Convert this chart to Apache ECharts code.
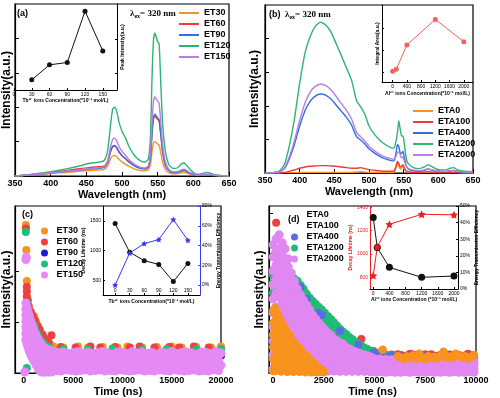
<!DOCTYPE html>
<html>
<head>
<meta charset="utf-8">
<script src="https://cdn.jsdelivr.net/npm/echarts@6/dist/echarts.min.js"></script>
<style>
  html, body { margin: 0; padding: 0; background: #fff; }
  #chart { width: 500px; height: 398px; }
</style>
</head>
<body>
<div id="chart"></div>
<script>
// ---------- (a) Tb3+ series, emission spectra ----------
const wlA = [350,365,380,395,410,425,440,455,467,475,480,484,487,490,493,496,500,505,510,518,526,532,537,540,542,544,546,548,550,552,554,557,561,566,572,578,583,587,591,596,602,608,614,619,624,630,640,650];
const et30 = [0,0.02,0.04,0.06,0.09,0.11,0.14,0.16,0.17,0.19,0.3,0.5,0.58,0.6,0.55,0.48,0.41,0.34,0.28,0.2,0.16,0.15,0.18,0.35,0.7,0.95,1.0,0.97,0.93,0.9,0.72,0.4,0.18,0.09,0.06,0.07,0.09,0.1,0.08,0.05,0.03,0.02,0.02,0.03,0.02,0.01,0,0];
const et60 = [0,0.02,0.05,0.09,0.13,0.17,0.21,0.25,0.27,0.29,0.43,0.72,0.85,0.87,0.8,0.69,0.59,0.5,0.41,0.3,0.24,0.22,0.27,0.57,1.2,1.65,1.74,1.7,1.64,1.6,1.27,0.7,0.31,0.15,0.1,0.11,0.14,0.16,0.13,0.08,0.04,0.03,0.04,0.04,0.03,0.02,0.01,0];
const et90 = [0,0.02,0.05,0.08,0.11,0.14,0.17,0.2,0.22,0.25,0.4,0.72,0.87,0.89,0.82,0.7,0.6,0.5,0.4,0.29,0.22,0.2,0.26,0.58,1.25,1.7,1.8,1.75,1.68,1.64,1.3,0.72,0.32,0.15,0.1,0.11,0.15,0.17,0.13,0.08,0.04,0.03,0.04,0.04,0.03,0.02,0.01,0];
const et120 = [0,0.03,0.07,0.11,0.16,0.22,0.29,0.37,0.4,0.45,0.75,1.5,1.95,2.0,1.85,1.55,1.3,1.1,0.85,0.58,0.44,0.4,0.5,1.2,2.8,3.9,4.15,4.05,3.9,3.85,2.9,1.5,0.7,0.32,0.22,0.24,0.35,0.38,0.3,0.18,0.07,0.05,0.08,0.1,0.08,0.03,0.01,0];
const et150 = [0,0.02,0.05,0.08,0.11,0.14,0.18,0.22,0.24,0.27,0.45,0.85,1.07,1.1,1.0,0.85,0.72,0.6,0.47,0.33,0.25,0.23,0.3,0.7,1.55,2.15,2.3,2.25,2.18,2.12,1.65,0.9,0.4,0.18,0.12,0.13,0.18,0.2,0.16,0.09,0.04,0.03,0.04,0.05,0.04,0.02,0.01,0];
const tbConcA = [30, 60, 90, 120, 150];
const peakIntA = [0.80, 1.24, 1.31, 2.82, 1.65];

// ---------- (b) Al3+ series, emission spectra ----------
const wlB = [350,360,370,378,385,392,400,408,415,422,430,438,445,452,460,468,475,482,488,494,500,508,516,524,532,536,539,541,543,545,547,549,551,554,558,565,572,580,585,590,597,605,612,617,622,628,638,650];
const eta0 = [0,0,0,0.01,0.01,0.01,0.01,0.02,0.02,0.02,0.02,0.02,0.02,0.02,0.02,0.02,0.02,0.03,0.04,0.03,0.02,0.02,0.01,0.01,0.01,0.02,0.15,0.3,0.22,0.12,0.15,0.2,0.12,0.04,0.02,0.01,0.01,0.02,0.03,0.02,0.01,0.01,0.01,0.01,0.01,0.01,0,0];
const eta100 = [0,0,0.01,0.02,0.05,0.09,0.14,0.18,0.2,0.21,0.22,0.22,0.21,0.2,0.18,0.16,0.14,0.14,0.16,0.13,0.1,0.08,0.06,0.05,0.05,0.06,0.2,0.35,0.28,0.18,0.2,0.25,0.15,0.06,0.03,0.02,0.02,0.03,0.04,0.03,0.02,0.01,0.01,0.02,0.02,0.01,0.01,0];
const eta400 = [0,0.01,0.03,0.13,0.42,0.82,1.4,1.87,2.13,2.28,2.35,2.31,2.2,2.04,1.84,1.64,1.42,1.08,0.98,0.86,0.72,0.59,0.49,0.42,0.37,0.36,0.6,0.84,0.78,0.6,0.58,0.64,0.45,0.2,0.1,0.06,0.05,0.08,0.12,0.09,0.05,0.04,0.04,0.06,0.07,0.04,0.02,0.01];
const eta1200 = [0,0.01,0.05,0.25,0.8,1.55,2.67,3.6,4.05,4.35,4.49,4.4,4.2,3.88,3.5,3.1,2.75,2.15,1.97,1.75,1.4,1.15,0.97,0.84,0.75,0.74,0.95,1.2,1.56,1.3,1.1,1.1,0.85,0.4,0.25,0.15,0.13,0.18,0.25,0.2,0.12,0.09,0.1,0.14,0.16,0.09,0.05,0.04];
const eta2000 = [0,0.01,0.03,0.15,0.48,0.92,1.57,2.1,2.4,2.57,2.65,2.6,2.48,2.3,2.07,1.85,1.6,1.2,1.08,0.95,0.8,0.66,0.55,0.47,0.42,0.41,0.5,0.62,0.62,0.55,0.45,0.48,0.35,0.2,0.12,0.08,0.07,0.09,0.12,0.1,0.06,0.05,0.05,0.07,0.08,0.05,0.03,0.02];
const alConcB = [0, 100, 400, 1200, 2000];
const areaB = [1.03, 1.12, 2.24, 3.41, 2.39];

// ---------- (c) Tb3+ series, decay curves ----------
// early part: [time, [intensities...]]; tail: one value per time step
const cTailStart = 3000, cTailStep = 500;
const c30Head = [[200,[2.9,2.86]],[250,[2.41]],[300,[1.8]],[350,[1.45]],[450,[1.32]],[600,[1.22]],[750,[1.13]],[900,[1.08]],[1050,[1.1,0.98]],[1250,[1.0]],[1450,[0.9]],[1700,[0.8]],[2000,[0.7]],[2300,[0.62]],[2600,[0.58]],[2800,[0.53]]];
const c30Tail = [0.52,0.38,0.5,0.36,0.39,0.52,0.37,0.5,0.38,0.36,0.51,0.39,0.37,0.5,0.38,0.52,0.36,0.39,0.5,0.37,0.38,0.51,0.36,0.39,0.52,0.37,0.5,0.38,0.36,0.51,0.39,0.37,0.5,0.38,0.52];
const c60Head = [[200,[2.83]],[250,[2.25]],[300,[1.69,1.6,1.5]],[400,[1.42]],[500,[1.3]],[700,[1.2]],[900,[1.12]],[1100,[1.04]],[1400,[0.92]],[1600,[0.85]],[1900,[0.75]],[2200,[0.66]],[2500,[0.6]],[2800,[0.74]]];
const c60Tail = [0.36,0.51,0.38,0.37,0.5,0.39,0.36,0.52,0.38,0.5,0.37,0.36,0.51,0.39,0.38,0.5,0.37,0.52,0.36,0.39,0.5,0.38,0.37,0.51,0.36,0.5,0.39,0.38,0.52,0.37,0.36,0.5,0.38,0.39];
const c90Head = [[300,[1.1]],[600,[0.9]],[900,[0.75]],[1300,[0.6]],[1800,[0.45]],[2400,[0.4]]];
const c90Tail = [0.33,0.35,0.32,0.34,0.36,0.33,0.31,0.34,0.35,0.32,0.33,0.36,0.34,0.31,0.33,0.35,0.32,0.34,0.33,0.36,0.31,0.34,0.35,0.33,0.32,0.34,0.36,0.33,0.31,0.35,0.34,0.32,0.33,0.35,0.34];
const c120Head = [[200,[2.76]],[300,[1.37,0.1]],[400,[1.28]],[600,[1.12]],[800,[1.0]],[1100,[0.92]],[1300,[0.8]],[1500,[0.72,0.05]],[1800,[0.62]],[2100,[0.56]],[2400,[0.52]],[2700,[0.48]]];
const c120Tail = [0.35,0.37,0.47,0.34,0.36,0.38,0.35,0.46,0.37,0.34,0.36,0.35,0.48,0.37,0.34,0.36,0.38,0.35,0.46,0.34,0.37,0.35,0.36,0.47,0.34,0.38,0.35,0.36,0.37,0.46,0.34,0.36,0.35,0.38,0.47];
const c150Head = [[100,[0.02]],[200,[2.22,0.65,0.77,0.89,1.01,1.13,1.25,1.37]],[250,[2.27]],[300,[0.58,0.7,0.82,0.94,1.06,1.18,1.3]],[400,[0.52,0.64,0.76,0.88,1.0,1.12,1.22]],[500,[0.46,0.58,0.7,0.82,0.94,1.05,1.15]],[600,[0.41,0.53,0.65,0.77,0.88,0.98,1.08]],[700,[0.36,0.48,0.6,0.72,0.83,0.93,1.02]],[800,[0.32,0.44,0.56,0.68,0.78,0.88,0.96]],[900,[0.28,0.4,0.52,0.63,0.73,0.82,0.9]],[1000,[0.24,0.36,0.48,0.59,0.69,0.78,0.85]],[1200,[0.17,0.29,0.41,0.52,0.62,0.71,0.76]],[1400,[0.11,0.23,0.35,0.46,0.56,0.64,0.68]],[1600,[0.06,0.18,0.3,0.41,0.5,0.57,0.62]],[1800,[0.02,0.13,0.25,0.36,0.45,0.52,0.56]],[2000,[0.02,0.13,0.24,0.34,0.43,0.5]],[2200,[0.02,0.12,0.23,0.33,0.41,0.48]],[2500,[0.02,0.12,0.22,0.32,0.4,0.46]],[2800,[0.02,0.12,0.22,0.32,0.4,0.44]]];
const c150Tail1 = [0.42,0.40,0.41,0.38,0.40,0.42,0.39,0.41,0.38,0.40,0.42,0.39,0.37,0.41,0.40,0.38,0.42,0.39,0.41,0.38,0.40,0.37,0.41,0.39,0.42,0.38,0.40,0.41,0.39,0.37,0.41,0.40,0.38,0.42,0.39];
const c150Tail2 = [0.29,0.27,0.28,0.26,0.28,0.29,0.27,0.26,0.28,0.27,0.29,0.26,0.28,0.27,0.26,0.29,0.27,0.28,0.26,0.27,0.29,0.28,0.26,0.27,0.28,0.29,0.26,0.28,0.27,0.26,0.28,0.29,0.27,0.26,0.28];
const c150Tail3 = [0.16,0.15,0.17,0.16,0.14,0.16,0.17,0.15,0.16,0.14,0.17,0.16,0.15,0.17,0.16,0.14,0.16,0.15,0.17,0.16,0.15,0.14,0.16,0.17,0.15,0.16,0.14,0.17,0.16,0.15,0.16,0.17,0.14,0.16,0.15];
const c150Tail4 = [0.05,0.04,0.06,0.05,0.04,0.05,0.06,0.04,0.05,0.06,0.04,0.05,0.04,0.06,0.05,0.04,0.05,0.06,0.04,0.05,0.04,0.06,0.05,0.04,0.06,0.05,0.04,0.05,0.06,0.04,0.05,0.04,0.06,0.05,0.04];
const tbConcC = [0, 30, 60, 90, 120, 150];
const lifeC = [1454, 971, 829, 766, 476, 783];
const effC = [0, 32.5, 42, 46, 66.3, 45.3];

// ---------- (d) Al3+ series, decay curves ----------
const dTailStart = 4950, dTailStep = 150;
const d0Head = [[0,[0.05,0.35,0.65,0.95,1.25,1.55]],[100,[0.05,0.22,0.4,0.58,0.76,0.94,1.12,1.3,1.48,1.62]],[250,[0.12,0.3,0.48,0.66,0.84,1.02,1.2,1.38,1.47]],[400,[0.04,0.2,0.36,0.52,0.68,0.84,1.0,1.15,1.3]],[550,[0.12,0.27,0.42,0.57,0.72,0.87,1.02,1.16]],[700,[0.03,0.18,0.33,0.47,0.61,0.75,0.89,1.02]],[850,[0.1,0.24,0.38,0.52,0.66,0.79,0.93]],[1000,[0.03,0.16,0.29,0.42,0.55,0.67,0.78]],[1150,[0.09,0.21,0.33,0.45,0.56,0.7]],[1300,[0.03,0.14,0.25,0.36,0.46,0.55,0.62]],[1450,[0.08,0.18,0.28,0.38,0.47,0.52]],[1600,[0.02,0.12,0.21,0.3,0.38,0.45]],[1750,[0.07,0.15,0.23,0.31,0.38]],[1900,[0.02,0.1,0.17,0.24,0.3]],[2050,[0.05,0.11,0.17,0.23]],[2200,[0.02,0.07,0.12,0.16]],[2350,[0.04,0.09]],[2500,[0.02,0.05]],[5400,[0.58]]];
const d0TailStart = 6150;
const d0Tail = [0.42,0.38,0.35,0.41,0.37,0.44,0.36,0.48,0.39,0.35,0.42,0.38,0.4,0.36,0.43,0.53,0.39,0.41,0.37,0.48,0.44,0.38,0.42,0.36,0.4,0.45];
const d100Head = [[150,[3.75]],[300,[2.4,2.6]],[450,[2.3]],[4350,[0.85]]];
const d100Tail = [0.55,0.5,0.48,0.52,0.45,0.44,0.46,0.43,0.47,0.45,0.41,0.44,0.48,0.46,0.43,0.41,0.45,0.47,0.44,0.47,0.42,0.43,0.45,0.48,0.44,0.46,0.42,0.47,0.45,0.42,0.44,0.48,0.45,0.43];
const d400Head = [[75,[2.6,2.95]],[1350,[2.15]],[1650,[1.85]],[2250,[1.5]],[2400,[1.45]],[3300,[1.05]],[4200,[0.7]]];
const d400Tail = [0.5,0.46,0.4,0.47,0.38,0.36,0.43,0.35,0.34,0.41,0.33,0.35,0.42,0.34,0.33,0.36,0.44,0.33,0.35,0.34,0.41,0.33,0.35,0.34,0.42,0.33,0.34,0.36,0.43,0.33,0.35,0.34,0.41,0.33];
const d1200Head = [[0,[2.0,2.25,2.45]],[75,[1.9,2.15,2.4]],[1050,[1.95,2.15,2.35]],[1200,[1.88,2.1,2.3]],[1350,[1.8,2.0,2.2]],[1500,[1.7,1.9,2.1]],[1650,[1.6,1.8,1.98]],[1800,[1.52,1.7,1.88]],[1950,[1.44,1.62,1.8]],[2100,[1.36,1.54,1.72]],[2250,[1.3,1.47,1.65]],[2400,[1.22,1.4,1.58]],[2550,[1.15,1.32,1.5]],[2700,[1.08,1.25,1.42]],[2850,[1.01,1.17,1.34]],[3000,[0.95,1.1,1.26]],[3150,[0.88,1.03,1.18]],[3300,[0.82,0.96,1.1]],[3450,[0.77,0.9,1.03]],[3600,[0.72,0.85,0.97]],[3750,[0.67,0.79,0.9]],[3900,[0.63,0.74,0.84]],[4050,[0.59,0.69,0.78]],[4200,[0.55,0.64,0.73]],[4350,[0.51,0.6,0.68]],[4500,[0.48,0.56,0.63]],[4650,[0.45,0.52,0.59]],[4800,[0.42,0.49,0.55]]];
const d1200Tail1 = [0.52,0.5,0.47,0.45,0.44,0.42,0.41,0.4,0.38,0.4,0.37,0.39,0.36,0.38,0.4,0.37,0.39,0.36,0.38,0.37,0.39,0.36,0.38,0.4,0.37,0.36,0.38,0.39,0.36,0.38,0.37,0.39,0.36,0.38];
const d1200Tail2 = [0.44,0.42,0.4,0.38,0.37,0.35,0.34,0.35,0.33,0.34,0.32,0.34,0.33,0.35,0.32,0.34,0.33,0.32,0.34,0.33,0.35,0.32,0.34,0.33,0.32,0.34,0.33,0.35,0.32,0.34,0.33,0.32,0.34,0.33];
const d2000Head = [[0,[0.1,0.45,0.8,1.15,1.5,1.85,2.2,2.55,2.9,3.2]],[150,[0.25,0.6,0.95,1.3,1.65,2.0,2.35,2.7,3.05,3.35]],[300,[0.1,0.4,0.7,1.0,1.3,1.6,1.9,2.2,2.5,2.8,3.1,3.45]],[450,[0.25,0.55,0.85,1.15,1.45,1.75,2.05,2.35,2.65,2.95,3.25]],[600,[0.1,0.4,0.7,1.0,1.3,1.6,1.9,2.2,2.5,2.8,3.1]],[750,[0.25,0.55,0.85,1.15,1.45,1.75,2.05,2.35,2.65,2.85]],[900,[0.1,0.4,0.7,1.0,1.3,1.6,1.9,2.2,2.5]],[1050,[0.22,0.48,0.72,0.98,1.22,1.48,1.72,1.98,2.2,2.3]],[1200,[0.1,0.35,0.6,0.85,1.1,1.35,1.6,1.85,2.1]],[1350,[0.2,0.42,0.68,0.92,1.18,1.42,1.68,1.95]],[1500,[0.08,0.3,0.55,0.8,1.05,1.3,1.55,1.82]],[1650,[0.18,0.4,0.62,0.88,1.12,1.38,1.6,1.7]],[1800,[0.08,0.28,0.5,0.72,0.95,1.18,1.4,1.58]],[1950,[0.16,0.37,0.59,0.81,1.02,1.22,1.45]],[2100,[0.06,0.25,0.45,0.65,0.85,1.05,1.22,1.35]],[2250,[0.15,0.34,0.53,0.71,0.89,1.05,1.25]],[2400,[0.05,0.23,0.41,0.59,0.76,0.92,1.05,1.16]],[2550,[0.14,0.31,0.49,0.65,0.8,0.95,1.08]],[2700,[0.05,0.21,0.38,0.54,0.69,0.82,0.92,1.0]],[2850,[0.13,0.28,0.44,0.58,0.71,0.83,0.94]],[3000,[0.05,0.2,0.35,0.5,0.63,0.74,0.84]],[3150,[0.12,0.27,0.41,0.54,0.66,0.8]],[3300,[0.04,0.19,0.33,0.46,0.58,0.68,0.75]],[3450,[0.11,0.25,0.38,0.5,0.61,0.72]],[3600,[0.04,0.18,0.31,0.43,0.54,0.63]],[3750,[0.1,0.23,0.36,0.47,0.57,0.6]],[3900,[0.04,0.17,0.29,0.4,0.5,0.56]],[4050,[0.1,0.22,0.33,0.44,0.53]],[4200,[0.04,0.16,0.27,0.37,0.46,0.5]],[4350,[0.09,0.2,0.31,0.4,0.47]],[4500,[0.04,0.15,0.26,0.35,0.42,0.45]],[4650,[0.09,0.19,0.3,0.38,0.43]],[4800,[0.03,0.14,0.25,0.33,0.4]]];
const d2000Tail1 = [0.36,0.33,0.35,0.32,0.34,0.31,0.33,0.30,0.32,0.34,0.31,0.29,0.33,0.30,0.32,0.29,0.31,0.33,0.30,0.28,0.32,0.30,0.29,0.31,0.33,0.30,0.28,0.31,0.29,0.32,0.30,0.28,0.31,0.29];
const d2000Tail2 = [0.24,0.22,0.23,0.21,0.22,0.20,0.23,0.21,0.22,0.20,0.21,0.23,0.20,0.22,0.21,0.19,0.22,0.20,0.21,0.23,0.20,0.22,0.19,0.21,0.22,0.20,0.21,0.19,0.22,0.20,0.21,0.23,0.20,0.21];
const d2000Tail3 = [0.13,0.12,0.11,0.13,0.12,0.10,0.12,0.11,0.13,0.10,0.12,0.11,0.12,0.10,0.13,0.11,0.12,0.10,0.11,0.13,0.12,0.10,0.11,0.12,0.10,0.13,0.11,0.12,0.10,0.11,0.12,0.13,0.10,0.11];
const d2000Tail4 = [0.03,0.02,0.04,0.03,0.02,0.03,0.04,0.02,0.03,0.02,0.04,0.03,0.02,0.03,0.04,0.02,0.03,0.02,0.03,0.04,0.02,0.03,0.02,0.04,0.03,0.02,0.03,0.04,0.02,0.03,0.02,0.03,0.04,0.02];
const alConcD = [0, 100, 400, 1200, 2000];
const lifeD = [1312, 1054, 885, 800, 811];
const effD = [8.1, 25.4, 39, 45, 44.7];

// ---------- styling ----------
const FONT = "'Liberation Sans Narrow','Liberation Sans',Arial,sans-serif";
const FONT_W = "'Liberation Sans',Arial,sans-serif";
const ORANGE = '#F7931E', RED = '#EE3B3B', BLUE = '#2F6FE0', GREEN = '#2BB673', VIOLET = '#B57EE8';
const STAR = 'path://M0,-10L2.9,-4L9.5,-3.1L4.8,1.5L5.9,8.1L0,5L-5.9,8.1L-4.8,1.5L-9.5,-3.1L-2.9,-4Z';
const plain = (v) => String(v);
const pct = (v) => v + '%';

const pairs = (xs, ys) => xs.map((x, i) => [x, ys[i]]);
const fromCols = (cols) => {
    const out = [];
    cols.forEach(([t, ys]) => ys.forEach(y => out.push([t, y])));
    return out;
};
const fromRow = (start, step, row) => row.map((y, i) => [start + i * step, y]);

const mainX = (grid, min, max, ticks, name) => ({
    type: 'value', gridIndex: grid, min: min, max: max,
    axisLine: { show: true, onZero: false, lineStyle: { color: '#000', width: 1.2 } },
    axisTick: { show: true, inside: true, length: 4, customValues: ticks, lineStyle: { color: '#000' } },
    axisLabel: { customValues: ticks, fontSize: 9, fontWeight: 'bold', color: '#000', margin: 3, fontFamily: FONT, formatter: plain },
    splitLine: { show: false },
    name: name, nameLocation: 'middle', nameGap: 13,
    nameTextStyle: { fontSize: 11, fontWeight: 'bold', color: '#000', fontFamily: FONT }
});
const mainY = (grid, max, ticks, gap) => ({
    type: 'value', gridIndex: grid, min: 0, max: max,
    axisLine: { show: true, onZero: false, lineStyle: { color: '#000', width: 1.2 } },
    axisTick: { show: true, inside: true, length: 4, customValues: ticks, lineStyle: { color: '#000' } },
    axisLabel: { show: false },
    splitLine: { show: false },
    name: 'Intensity(a.u.)', nameLocation: 'middle', nameGap: gap,
    nameTextStyle: { fontSize: 12, fontWeight: 'bold', color: '#000', fontFamily: FONT_W }
});
const insetAxis = (o) => Object.assign({
    type: 'value',
    axisLine: { show: true, onZero: false, lineStyle: { color: o.color || '#000', width: 1 } },
    axisTick: { show: true, inside: true, length: 2, customValues: o.ticks, lineStyle: { color: o.color || '#000' } },
    axisLabel: { show: o.labels !== false, customValues: o.ticks, inside: !!o.labelInside, fontSize: 5, color: o.labelColor || o.color || '#000', margin: 2, fontFamily: FONT_W, formatter: o.fmt || plain },
    splitLine: { show: false },
    nameLocation: 'middle',
    nameTextStyle: { fontSize: 5, fontWeight: 'bold', color: o.labelColor || o.color || '#000', fontFamily: FONT_W }
}, o.base);

const spec = (name, wl, vals, color, xi, yi) => ({
    type: 'line', name: name, xAxisIndex: xi, yAxisIndex: yi,
    data: pairs(wl, vals), symbol: 'none', smooth: 0.2,
    lineStyle: { color: color, width: 1.4 }, itemStyle: { color: color }, silent: true
});
const dots = (name, color, pts, xi, yi, size) => ({
    type: 'scatter', name: name, xAxisIndex: xi, yAxisIndex: yi, data: pts,
    symbolSize: size, itemStyle: { color: color, opacity: 1 }, silent: true
});
const insetLine = (data, color, symbol, size, xi, yi) => ({
    type: 'line', xAxisIndex: xi, yAxisIndex: yi, data: data,
    symbol: symbol, symbolSize: size, showSymbol: true,
    lineStyle: { color: color, width: 1 }, itemStyle: { color: color }, silent: true, z: 5
});

const legendBase = (o) => Object.assign({
    orient: 'vertical', selectedMode: false, itemGap: 1, padding: 0,
    textStyle: { fontSize: 9, fontWeight: 'bold', color: '#000', fontFamily: FONT, lineHeight: 10 }
}, o);

const grids = [
    { left: 14, top: 4, width: 215, height: 172, show: true, borderColor: '#000', borderWidth: 1.2 },
    { left: 14, top: 4, width: 103, height: 86 },
    { left: 265, top: 5, width: 208, height: 168, show: true, borderColor: '#000', borderWidth: 1.2 },
    { left: 382, top: 5, width: 91, height: 77 },
    { left: 14, top: 206, width: 207, height: 167, show: true, borderColor: '#000', borderWidth: 1.2 },
    { left: 103, top: 206, width: 97, height: 89 },
    { left: 269, top: 206, width: 207, height: 167, show: true, borderColor: '#000', borderWidth: 1.2 },
    { left: 370, top: 206, width: 88, height: 83 }
];

const xAxes = [
    mainX(0, 350, 650, [350,400,450,500,550,600,650], 'Wavelength (nm)'),
    insetAxis({ ticks: [0,30,60,90,120,150], base: { gridIndex: 1, min: 0, max: 174, name: 'Tb³⁺ ions Concentration(*10⁻³ mol/L)', nameGap: 8 } }),
    mainX(2, 350, 650, [350,400,450,500,550,600,650], 'Wavelength (nm)'),
    insetAxis({ ticks: [0,400,800,1200,1600,2000], base: { gridIndex: 3, min: -300, max: 2260, name: 'Al³⁺ ions Concentration(*10⁻³ mol/L)', nameGap: 9 } }),
    mainX(4, -900, 20000, [0,5000,10000,15000,20000], 'Time (ns)'),
    insetAxis({ ticks: [0,30,60,90,120,150], labelInside: true, base: { gridIndex: 5, min: -25, max: 175, name: 'Tb³⁺ ions Concentration(*10⁻³ mol/L)', nameGap: 4 } }),
    mainX(6, -200, 10000, [0,2500,5000,7500,10000], 'Time (ns)'),
    insetAxis({ ticks: [0,400,800,1200,1600,2000], base: { gridIndex: 7, min: -80, max: 2100, name: 'Al³⁺ ions Concentration (*10⁻³ mol/L)', nameGap: 8 } })
];

const yAxes = [
    mainY(0, 5, [1,2,3,4], 2),
    insetAxis({ ticks: [1,2], labels: false, base: { gridIndex: 1, position: 'right', min: 0.5, max: 3.03, name: 'Peak Intensity(a.u.)', nameGap: 3 } }),
    mainY(2, 5, [1,2,3,4], 4),
    insetAxis({ ticks: [1,2,3], labels: false, base: { gridIndex: 3, min: 0.54, max: 4.07, name: 'Integral Area(a.u.)', nameGap: 2 } }),
    mainY(4, 3.27, [1,2], 2),
    insetAxis({ ticks: [500,1000,1500], base: { gridIndex: 5, min: 250, max: 1750, name: 'Decay Lifetime (ns)', nameGap: 11 } }),
    insetAxis({ ticks: [0,20,40,60,80], color: '#3A3AF0', labelColor: '#000', fmt: pct, base: { gridIndex: 5, position: 'right', min: -10, max: 80, name: 'Energy Transmission Efficiency', nameGap: 13 } }),
    mainY(6, 4.17, [1,2,3,4], 3),
    insetAxis({ ticks: [800,1000,1200,1400], color: '#EE1C1C', base: { gridIndex: 7, min: 700, max: 1410, name: 'Decay Lifetime (ns)', nameGap: 11 } }),
    insetAxis({ ticks: [0,10,20,30,40,50], fmt: pct, base: { gridIndex: 7, position: 'right', min: 0, max: 50, name: 'Energy Transmission Efficiency', nameGap: 9 } })
];

const series = [
    // (a)
    spec('ET30', wlA, et30, ORANGE, 0, 0),
    spec('ET60', wlA, et60, RED, 0, 0),
    spec('ET90', wlA, et90, BLUE, 0, 0),
    spec('ET120', wlA, et120, GREEN, 0, 0),
    spec('ET150', wlA, et150, VIOLET, 0, 0),
    insetLine(pairs(tbConcA, peakIntA), '#111', 'circle', 5, 1, 1),
    // (b)
    spec('ETA0', wlB, eta0, ORANGE, 2, 2),
    spec('ETA100', wlB, eta100, RED, 2, 2),
    spec('ETA400', wlB, eta400, BLUE, 2, 2),
    spec('ETA1200', wlB, eta1200, GREEN, 2, 2),
    spec('ETA2000', wlB, eta2000, VIOLET, 2, 2),
    insetLine(pairs(alConcB, areaB), '#F4625B', 'circle', 5, 3, 3),
    // (c)
    dots('ET30 ', ORANGE, fromCols(c30Head).concat(fromRow(cTailStart, cTailStep, c30Tail)), 4, 4, 8),
    dots('ET60 ', '#EE4040', fromCols(c60Head).concat(fromRow(cTailStart + 250, cTailStep, c60Tail)), 4, 4, 8),
    dots('ET90 ', '#1C1CD6', fromCols(c90Head).concat(fromRow(cTailStart, cTailStep, c90Tail)), 4, 4, 8),
    dots('ET120 ', '#1DBF7A', fromCols(c120Head).concat(fromRow(cTailStart, cTailStep, c120Tail)), 4, 4, 8),
    dots('ET150 ', '#E58AF5', fromCols(c150Head)
        .concat(fromRow(cTailStart, cTailStep, c150Tail1), fromRow(cTailStart + 250, cTailStep, c150Tail2),
                fromRow(cTailStart, cTailStep, c150Tail3), fromRow(cTailStart + 250, cTailStep, c150Tail4)), 4, 4, 9),
    insetLine(pairs(tbConcC, lifeC), '#111', 'circle', 5, 5, 5),
    insetLine(pairs(tbConcC, effC), '#3A3AF0', STAR, 6, 5, 6),
    // (d) drawing order: red, green, blue, violet, orange on top
    dots('ETA100 ', '#EE4040', fromCols(d100Head).concat(fromRow(dTailStart, dTailStep, d100Tail)), 6, 7, 8),
    dots('ETA1200 ', '#22BB77', fromCols(d1200Head).concat(fromRow(dTailStart, dTailStep, d1200Tail1), fromRow(dTailStart, dTailStep, d1200Tail2)), 6, 7, 8.5),
    dots('ETA400 ', '#5B6BE8', fromCols(d400Head).concat(fromRow(dTailStart, dTailStep, d400Tail)), 6, 7, 8),
    dots('ETA2000 ', '#E187F2', fromCols(d2000Head)
        .concat(fromRow(dTailStart, dTailStep, d2000Tail1), fromRow(dTailStart, dTailStep, d2000Tail2),
                fromRow(dTailStart, dTailStep, d2000Tail3), fromRow(dTailStart, dTailStep, d2000Tail4)), 6, 7, 9),
    dots('ETA0 ', ORANGE, fromCols(d0Head).concat(fromRow(d0TailStart, dTailStep, d0Tail)), 6, 7, 8.5),
    insetLine(pairs(alConcD, lifeD), '#111', 'circle', 7, 7, 8),
    insetLine(pairs(alConcD, effD), '#F01E1E', STAR, 8, 7, 9)
];

const hiddenIcon = { opacity: 0, color: 'rgba(0,0,0,0)' };
const legends = [
    legendBase({ data: ['ET30','ET60','ET90','ET120','ET150'], left: 179, top: 8, icon: 'rect', itemWidth: 20, itemHeight: 2 }),
    legendBase({ data: ['ETA0','ETA100','ETA400','ETA1200','ETA2000'], left: 413, top: 106, icon: 'rect', itemWidth: 20, itemHeight: 2 }),
    legendBase({ data: ['ET30 ','ET60 ','ET90 ','ET120 ','ET150 '], left: 41, top: 226, itemWidth: 14, itemHeight: 7 }),
    legendBase({ data: [{ name: 'ETA0 ', itemStyle: hiddenIcon }, { name: 'ETA100 ', itemStyle: hiddenIcon }, 'ETA400 ', 'ETA1200 ', 'ETA2000 '],
        left: 291, top: 210, itemWidth: 14, itemHeight: 7 })
];

const lambdaRich = {
    l: { fontFamily: 'Liberation Serif', fontWeight: 'bold', fontSize: 9, fill: '#000', color: '#000', lineHeight: 11 },
    s: { fontFamily: 'Liberation Serif', fontWeight: 'bold', fontSize: 6, fill: '#000', color: '#000', lineHeight: 11, verticalAlign: 'bottom' }
};
const label = (x, y, text) => ({ type: 'text', left: x, top: y, style: { text: text, font: 'bold 9px ' + FONT_W, fill: '#000' } });
const graphics = [
    label(17, 9, '(a)'),
    { type: 'text', left: 130, top: 9, style: { text: '{l|λ}{s|ex}{l|= 320 nm}', rich: lambdaRich } },
    label(269, 10, '(b)'),
    { type: 'text', left: 285, top: 10, style: { text: '{l|λ}{s|ex}{l|= 320 nm}', rich: lambdaRich } },
    label(22, 210, '(c)'),
    label(288, 215, '(d)')
];

const chart = echarts.init(document.getElementById('chart'), null, { renderer: 'canvas' });
chart.setOption({
    animation: false,
    backgroundColor: '#fff',
    textStyle: { fontFamily: FONT },
    grid: grids,
    xAxis: xAxes,
    yAxis: yAxes,
    legend: legends,
    graphic: graphics,
    series: series
});
</script>
</body>
</html>
